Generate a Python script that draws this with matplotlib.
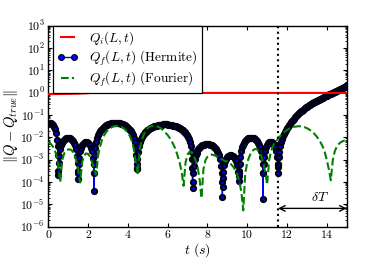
import numpy as np
import matplotlib
matplotlib.use("Agg")
import matplotlib.pyplot as plt

plt.rcParams['font.family'] = 'serif'
plt.rcParams['font.serif'] = ['cmr10', 'DejaVu Serif']
plt.rcParams['mathtext.fontset'] = 'cm'
plt.rcParams['axes.unicode_minus'] = False
plt.rcParams['axes.formatter.use_mathtext'] = True

# ---------------- data (log10 of the error norms) ----------------
# Hermite reconstruction error, sampled every 0.05 s from 0 to 15 s
hermite_log10 = [
    -1.35, -1.34, -1.35, -1.37, -1.40, -1.46, -1.53, -1.64, -1.81, -2.10,
    -3.70,
    -2.83, -2.53, -2.36, -2.25, -2.17, -2.11, -2.07, -2.04, -2.02, -2.02, -2.02, -2.04, -2.07, -2.11, -2.17, -2.25, -2.36, -2.53, -2.83,
    -3.85,
    -2.91, -2.62, -2.46, -2.35, -2.28, -2.23, -2.21, -2.20, -2.21, -2.23, -2.28, -2.35, -2.46, -2.62, -2.91,
    -4.38,
    -2.49, -2.19, -2.01, -1.89, -1.80, -1.72, -1.66, -1.61, -1.56, -1.53, -1.49, -1.46, -1.44, -1.42, -1.40, -1.39, -1.37, -1.36, -1.36, -1.35,
    -1.35, -1.35, -1.35, -1.36, -1.36, -1.37, -1.39, -1.40, -1.42, -1.44, -1.46, -1.49, -1.53, -1.56, -1.61, -1.66, -1.72, -1.80, -1.89, -2.01, -2.19, -2.49,
    -3.42,
    -2.67, -2.37, -2.20, -2.07, -1.98, -1.90, -1.84, -1.78, -1.74, -1.69, -1.66, -1.63, -1.60, -1.57, -1.55, -1.53, -1.51, -1.49, -1.48, -1.47, -1.45, -1.45, -1.44, -1.43, -1.43, -1.42, -1.42, -1.42,
    -1.42, -1.42, -1.43, -1.43, -1.44, -1.45, -1.45, -1.47, -1.48, -1.49, -1.51, -1.53, -1.55, -1.57, -1.60, -1.63, -1.66, -1.69, -1.74, -1.78, -1.84, -1.90, -1.98, -2.07, -2.20, -2.37, -2.67,
    -4.27,
    -3.28, -2.98, -2.81, -2.69, -2.60, -2.53, -2.48, -2.43, -2.39, -2.36, -2.34, -2.32, -2.31, -2.30, -2.30, -2.30, -2.31, -2.32, -2.34, -2.36, -2.39, -2.43, -2.48, -2.53, -2.60, -2.69, -2.81, -2.98, -3.28,
    -4.67,
    -3.54, -3.24, -3.08, -2.97, -2.90, -2.85, -2.82, -2.80, -2.80, -2.82, -2.85, -2.90, -2.97, -3.08, -3.24, -3.54,
    -3.97,
    -2.90, -2.61, -2.44, -2.32, -2.24, -2.17, -2.12, -2.08, -2.05, -2.04, -2.02, -2.02, -2.02, -2.04, -2.05, -2.08, -2.12, -2.17, -2.24, -2.32, -2.44, -2.61, -2.90,
    -4.77,
    -2.88, -2.59, -2.43, -2.33, -2.26, -2.22, -2.20, -2.20, -2.22, -2.26, -2.33, -2.43, -2.59, -2.88,
    -3.58,
    -2.67, -2.37, -2.19, -2.06, -1.95, -1.86, -1.77, -1.69, -1.60,
    -1.53, -1.46, -1.39, -1.33, -1.27, -1.21, -1.16, -1.10, -1.05, -1.01, -0.96, -0.92, -0.88, -0.84, -0.80, -0.76, -0.72, -0.69, -0.65, -0.62,
    -0.59, -0.56, -0.53, -0.50, -0.48, -0.45, -0.43, -0.40, -0.38, -0.35, -0.33, -0.31, -0.28, -0.26, -0.24, -0.22, -0.19, -0.17, -0.15, -0.13,
    -0.11, -0.08, -0.06, -0.04, -0.02, 0.00, 0.02, 0.04, 0.06, 0.08, 0.11, 0.13, 0.15, 0.17, 0.19, 0.21, 0.24, 0.27, 0.30, 0.33,
]
# extra Hermite samples close to the cusps
hermite_dip_t = [0.475, 0.49, 0.51, 0.525, 1.475, 1.49, 1.51, 1.525, 2.275, 2.29, 2.31, 2.325,
                 4.425, 4.44, 4.46, 4.475, 7.225, 7.24, 7.26, 7.275, 8.725, 8.74, 8.76, 8.775,
                 9.575, 9.59, 9.61, 9.625, 10.775, 10.79, 10.81, 10.825, 11.525, 11.54, 11.56, 11.575]
hermite_dip_log10 = [-2.40, -2.80, -3.52, -3.13, -3.13, -3.52, -3.61, -3.21, -3.21, -3.61, -3.19, -2.79,
                     -2.79, -3.19, -3.37, -2.97, -2.97, -3.37, -3.98, -3.58, -3.58, -3.98, -4.23, -3.83,
                     -3.52, -3.72, -3.60, -3.20, -3.20, -3.60, -3.58, -3.18, -3.18, -3.32, -3.22, -2.87]

# Fourier reconstruction error, every 0.1 s
fourier_log10 = [
    -2.22, -2.27, -2.37, -2.52, -2.77, -3.22, -4.02, -3.02, -2.72, -2.60,
    -2.54, -2.54, -2.60, -2.74, -3.02, -3.42, -4.02, -3.12, -2.82, -2.72,
    -2.74, -2.87, -3.12, -3.42, -3.67, -2.82, -2.42, -2.12, -1.92, -1.77,
    -1.67, -1.60, -1.54, -1.50, -1.49, -1.49, -1.50, -1.54, -1.60, -1.69,
    -1.80, -1.94, -2.17, -2.52, -3.12, -3.67, -2.52, -2.12, -1.87, -1.70,
    -1.58, -1.52, -1.49, -1.48, -1.49, -1.52, -1.56, -1.62, -1.70, -1.80,
    -1.90, -2.02, -2.17, -2.34, -2.54, -2.82, -3.12, -3.52, -4.17, -3.12,
    -2.77, -2.64, -2.67, -2.82, -3.02, -3.32, -3.82, -4.72, -3.42, -3.02,
    -2.87, -2.80, -2.77, -2.79, -2.82, -2.87, -2.92, -2.97, -3.02, -3.07,
    -3.07, -3.12, -3.22, -3.32, -3.47, -3.67, -3.97, -4.42, -5.27, -3.62,
    -3.12, -2.87, -2.67, -2.57, -2.52, -2.54, -2.64, -2.82, -3.12, -3.52,
    -4.12, -3.02, -2.62, -2.37, -2.22, -2.12, -2.00, -1.90, -1.82, -1.74,
    -1.67, -1.62, -1.57, -1.54, -1.52, -1.51, -1.50, -1.51, -1.52, -1.55,
    -1.59, -1.64, -1.70, -1.77, -1.87, -1.97, -2.10, -2.25, -2.42, -2.67,
    -3.02, -3.42, -3.92, -3.02, -2.62, -2.42, -2.30, -2.22, -2.17, -2.14,
    -2.12,
]

# Q_i error, every 0.5 s
qi_log10 = [-0.06, -0.06, -0.05, -0.04, -0.02, 0.02, 0.08, 0.13, 0.13, 0.08,
            0.03, 0.00, -0.01, -0.01, -0.01, -0.01, -0.01, -0.01, -0.01, -0.01,
            -0.01, -0.01, -0.01, -0.01, -0.01, -0.01, -0.01, -0.01, -0.01, -0.01, -0.01]

t_switch = 11.55
arrow_log10 = -5.18
label_pos = (13.65, -4.71)

xticks = [0, 2, 4, 6, 8, 10, 12, 14]

# ---------------- build series ----------------
assert len(hermite_log10) == 301
assert len(fourier_log10) == 151
t_h = np.concatenate([np.linspace(0, 15, 301), hermite_dip_t])
v_h = np.concatenate([hermite_log10, hermite_dip_log10])
order = np.argsort(t_h, kind='stable')
t_h, v_h = t_h[order], 10.0 ** v_h[order]

t_f = np.linspace(0, 15, 151)
v_f = 10.0 ** np.array(fourier_log10)
t_q = np.linspace(0, 15, 31)
v_q = 10.0 ** np.array(qi_log10)

# ---------------- figure ----------------
fig = plt.figure(figsize=(3.86, 2.58), dpi=100)
ax = fig.add_axes([0.1251, 0.1213, 0.7731, 0.7791])

ax.plot(t_q, v_q, color='red', lw=1.5, label=r'$Q_i(L,t)$', zorder=3)
ax.plot(t_h, v_h, '-o', color='blue', lw=1.0, ms=3.6, mfc='blue', mec='#000015', mew=1.6,
        label=r'$Q_f(L,t)$ (Hermite)', zorder=2)
ax.plot(t_f, v_f, '--', color='green', lw=1.5, label=r'$Q_f(L,t)$ (Fourier)', zorder=4)

ax.axvline(t_switch, color='black', ls=':', lw=1.5, zorder=5)
ax.annotate('', xy=(15, 10 ** arrow_log10), xytext=(t_switch, 10 ** arrow_log10),
            arrowprops=dict(arrowstyle='<->', color='black', lw=1.0, shrinkA=0, shrinkB=0))
ax.text(label_pos[0], 10 ** label_pos[1], r'$\delta T$', ha='center', va='center', fontsize=10)

ax.set_yscale('log')
ax.set_xlim(0, 15)
ax.set_ylim(1e-6, 1e3)
ax.set_xticks(xticks)
ax.set_xticklabels([str(v) for v in xticks])
ax.tick_params(which='both', direction='in', top=True, right=True, labelsize=8.5, pad=2.5)
ax.tick_params(which='major', length=3, width=0.8)
ax.tick_params(which='minor', length=1.6, width=0.6)
for s in ax.spines.values():
    s.set_linewidth(1.0)

ax.set_xlabel(r'$t\ (s)$', fontsize=10, labelpad=1)
ax.set_ylabel(r'$\|Q-Q_{true}\|$', fontsize=10.5, labelpad=0)

leg = ax.legend(loc='upper left', bbox_to_anchor=(0.016, 1.0), borderaxespad=0,
                fontsize=9.6, numpoints=2, handlelength=1.55, handletextpad=0.85,
                borderpad=0.3, labelspacing=0.12, fancybox=False, framealpha=1,
                edgecolor='black')
leg.get_frame().set_linewidth(0.9)
for h in leg.legend_handles:
    if hasattr(h, 'set_markeredgewidth'):
        h.set_markeredgewidth(0.8)
        h.set_markersize(4.2)

fig.savefig('out.png', dpi=100)
